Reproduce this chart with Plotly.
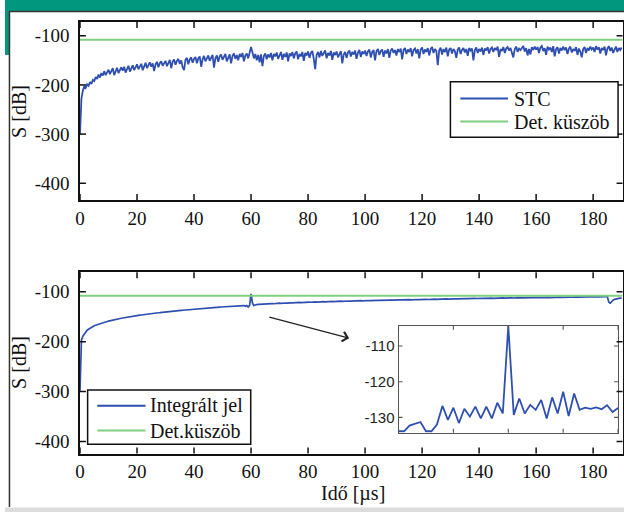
import plotly.graph_objects as go

# ---- sampled signals (dB), uniform time grid starting at T0 with step DT (µs)
T0 = 0.0
DT = 0.5
X_MAX = 190.3
THRESHOLD_DB = -108.0

STC_DB = [
    -300, -228, -212, -203, -206, -199, -202, -194, -198, -190,
    -192, -184, -188, -179, -185, -176, -181, -172, -180, -174,
    -169, -178, -171, -166, -180, -170, -165, -176, -168, -164,
    -171, -163, -175, -166, -161, -173, -164, -160, -170, -162,
    -158, -168, -161, -157, -170, -160, -155, -166, -159, -154,
    -163, -156, -172, -158, -153, -164, -156, -152, -161, -155,
    -151, -162, -154, -149, -166, -153, -148, -159, -151, -147,
    -157, -150, -164, -170, -149, -145, -158, -148, -144, -155,
    -147, -143, -156, -146, -142, -163, -148, -141, -152, -144,
    -140, -151, -143, -139, -165, -146, -140, -153, -142, -138,
    -149, -141, -137, -152, -143, -138, -156, -141, -136, -147,
    -139, -150, -137, -143, -135, -152, -140, -136, -146, -132,
    -123, -134, -146, -137, -150, -139, -154, -138, -162, -141,
    -136, -148, -138, -144, -135, -150, -137, -142, -134, -147,
    -138, -133, -149, -137, -143, -134, -152, -136, -141, -133,
    -146, -136, -132, -148, -137, -142, -133, -151, -135, -140,
    -132, -145, -135, -131, -147, -168, -139, -133, -144, -131,
    -141, -134, -130, -146, -135, -140, -131, -149, -134, -139,
    -132, -144, -136, -131, -156, -138, -133, -145, -134, -130,
    -142, -133, -138, -130, -147, -134, -129, -143, -132, -137,
    -130, -141, -132, -128, -144, -133, -129, -150, -131, -127,
    -139, -131, -128, -143, -130, -136, -127, -145, -130, -126,
    -135, -129, -140, -127, -133, -126, -148, -129, -125, -137,
    -128, -133, -125, -142, -129, -126, -136, -127, -146, -128,
    -124, -137, -128, -133, -125, -140, -127, -123, -135, -127,
    -131, -160, -130, -124, -138, -127, -133, -124, -142, -128,
    -125, -136, -127, -131, -145, -128, -124, -137, -129, -125,
    -134, -127, -141, -125, -130, -126, -150, -129, -124, -135,
    -127, -132, -124, -139, -126, -130, -123, -136, -127, -124,
    -133, -125, -129, -122, -143, -127, -131, -123, -135, -126,
    -123, -130, -125, -137, -144, -127, -122, -133, -126, -129,
    -124, -121, -132, -125, -140, -127, -138, -123, -129, -122,
    -128, -123, -135, -124, -121, -131, -125, -139, -122, -128,
    -124, -133, -121, -142, -127, -123, -136, -125, -130, -122,
    -129, -124, -137, -126, -122, -134, -127, -131, -123, -139,
    -126, -132, -144, -127, -123, -135, -125, -130, -122, -128,
    -124, -133, -121, -128, -123, -136, -125, -129, -122, -140,
    -126, -121, -131, -124, -135, -127, -122, -133, -125, -129,
    -124,
]

INTEGRATED_DB = [
    -300, -197, -189, -184, -180, -177, -175, -173, -171, -169.5,
    -168.2, -167.0, -165.9, -164.8, -163.7, -162.8, -161.9, -161.0, -160.3, -159.5,
    -158.8, -158.0, -157.4, -156.6, -156.0, -155.3, -154.8, -154.1, -153.6, -153.0,
    -152.5, -151.9, -151.5, -150.9, -150.4, -150.0, -149.4, -149.0, -148.5, -148.1,
    -147.6, -147.3, -146.8, -146.5, -146.0, -145.7, -145.2, -144.9, -144.5, -144.1,
    -143.8, -143.4, -143.1, -142.7, -142.4, -142.0, -141.8, -141.4, -141.1, -140.8,
    -140.5, -140.1, -139.9, -139.5, -139.3, -138.9, -138.7, -138.3, -138.1, -137.8,
    -137.6, -137.2, -137.0, -136.7, -136.5, -136.1, -135.9, -135.6, -135.4, -135.1,
    -134.9, -134.6, -134.4, -134.1, -133.9, -133.6, -133.4, -133.1, -132.9, -132.7,
    -132.5, -132.2, -132.0, -131.8, -131.6, -131.3, -131.1, -130.9, -130.7, -130.5,
    -130.3, -130.1, -129.9, -129.7, -129.5, -129.3, -129.1, -129.0, -128.8, -128.6,
    -128.5, -128.3, -128.2, -128.0, -127.9, -127.7, -129.0, -127.6, -130.5, -127.3,
    -104.4, -122.8, -127.4, -126.0, -125.6, -125.3, -125.0, -124.8, -124.6, -124.4,
    -124.1, -124.4, -123.9, -124.2, -123.8, -123.6, -124.0, -123.5, -123.7, -123.3,
    -122.9, -123.2, -122.7, -122.9, -122.5, -122.8, -122.3, -122.6, -122.2, -122.4,
    -121.9, -122.1, -121.6, -121.8, -121.4, -121.7, -121.3, -121.5, -121.1, -121.3,
    -121.0, -120.7, -121.0, -120.5, -120.8, -120.4, -120.6, -120.2, -120.5, -120.1,
    -120.2, -119.9, -120.1, -119.7, -120.0, -119.6, -119.8, -119.4, -119.7, -119.3,
    -119.4, -119.1, -119.3, -118.9, -119.2, -118.8, -119.0, -118.7, -118.9, -118.5,
    -118.7, -118.4, -118.6, -118.2, -118.5, -118.1, -118.3, -117.9, -118.2, -117.8,
    -118.0, -117.7, -117.9, -117.5, -117.8, -117.4, -117.6, -117.3, -117.5, -117.2,
    -117.4, -117.1, -117.3, -116.9, -117.2, -116.8, -117.0, -116.7, -116.9, -116.6,
    -116.8, -116.5, -116.7, -116.3, -116.6, -116.2, -116.4, -116.1, -116.3, -116.0,
    -116.3, -115.9, -116.2, -115.8, -116.0, -115.7, -115.9, -115.5, -115.8, -115.4,
    -115.7, -115.4, -115.6, -115.2, -115.5, -115.1, -115.3, -115.0, -115.2, -114.8,
    -115.1, -114.8, -115.0, -114.6, -114.9, -114.5, -114.7, -114.4, -114.6, -114.2,
    -114.6, -114.2, -114.5, -114.1, -114.3, -114.0, -114.2, -113.8, -114.1, -113.7,
    -114.0, -113.7, -113.9, -113.5, -113.8, -113.4, -113.6, -113.3, -113.5, -113.2,
    -113.5, -113.2, -113.4, -113.0, -113.3, -112.9, -113.1, -112.8, -113.0, -112.7,
    -113.1, -112.8, -113.0, -112.6, -112.9, -112.5, -112.7, -112.4, -112.6, -112.3,
    -112.7, -112.4, -112.6, -112.2, -112.5, -112.1, -112.3, -112.0, -112.2, -111.9,
    -112.4, -112.1, -112.3, -111.9, -112.2, -111.8, -112.0, -111.7, -111.9, -111.6,
    -112.0, -111.7, -111.9, -111.5, -111.8, -111.4, -111.6, -111.3, -111.5, -111.2,
    -111.6, -111.3, -111.5, -111.1, -111.4, -111.0, -111.2, -110.9, -111.1, -110.8,
    -111.2, -110.9, -111.1, -110.7, -111.0, -110.6, -110.8, -110.5, -110.7, -110.4,
    -110.9, -110.6, -110.8, -110.4, -110.7, -110.3, -110.5, -110.2, -110.4, -110.1,
    -110.5, -110.2, -110.4, -110.0, -110.3, -109.9, -110.1, -109.8, -110.0, -109.7,
    -110.0, -121.0, -123.0, -119.5, -116.8, -115.2, -114.1, -113.5, -113.1, -112.8,
    -112.6,
]

# Detail around the 60 µs echo: fine grid 59..61 µs
ZOOM_T0 = 59.0
ZOOM_DT = 0.05
ZOOM_DB = [
    -133.9, -133.9, -132.3, -131.8, -131.3, -133.9, -133.9, -132.0, -126.8, -130.7,
    -127.3, -131.6, -127.6, -129.8, -127.0, -130.3, -127.0, -130.3, -125.9, -128.9,
    -104.4, -129.3, -124.7, -128.9, -126.5, -127.9, -125.1, -130.3, -124.4, -128.9,
    -122.8, -129.6, -123.3, -127.9, -127.3, -127.6, -127.2, -127.7, -126.6, -128.5,
    -127.4,
]

X_TICKS = [0, 20, 40, 60, 80, 100, 120, 140, 160, 180]
Y_TICKS = [-400, -300, -200, -100]
ZOOM_Y_TICKS = [-130, -120, -110]
ZOOM_X_TICKS = [59.0, 59.5, 60.0, 60.5, 61.0]

TOP_LEGEND = [("STC", "#2f4fb0"), ("Det. küszöb", "#80cf80")]
BOTTOM_LEGEND = [("Integrált jel", "#2f4fb0"), ("Det.küszöb", "#80cf80")]

BLUE = "#2f4fb0"
GREEN = "#80cf80"
TEAL = "#00977f"
INK = "#111111"
INSET_INK = "#555555"
SERIF = "Liberation Serif, Times New Roman, serif"
SANS = "Liberation Sans, Arial, sans-serif"

W, H = 624, 512


def px_x(p):
    return p / W


def px_y(p):
    return 1 - p / H


def hyphen_labels(vals, pad=""):
    # plain ASCII hyphen for negatives, optional trailing gap before the axis
    return ["%d%s" % (v, pad) for v in vals]


# panel boxes in px: left, top, right, bottom
TOP_BOX = (75.6, 22.0, 622.5, 200.0)
BOT_BOX = (75.6, 272.3, 622.5, 453.5)
INSET_BOX = (396.7, 325.7, 618.0, 432.7)


def x_domain(box):
    return [px_x(box[0]), px_x(box[2])]


def y_domain(box):
    return [px_y(box[3]), px_y(box[1])]


fig = go.Figure()

# upper panel
fig.add_trace(go.Scatter(x0=T0, dx=DT, y=STC_DB, mode="lines", name="STC",
                         line=dict(color=BLUE, width=1.8),
                         xaxis="x", yaxis="y", showlegend=False))
fig.add_trace(go.Scatter(x=[T0, X_MAX], y=[THRESHOLD_DB, THRESHOLD_DB], mode="lines",
                         name="Det. küszöb", line=dict(color=GREEN, width=2),
                         xaxis="x", yaxis="y", showlegend=False))

# lower panel
fig.add_trace(go.Scatter(x0=T0, dx=DT, y=INTEGRATED_DB, mode="lines", name="Integrált jel",
                         line=dict(color=BLUE, width=1.7),
                         xaxis="x2", yaxis="y2", showlegend=False))
fig.add_trace(go.Scatter(x=[T0, X_MAX], y=[THRESHOLD_DB, THRESHOLD_DB], mode="lines",
                         name="Det.küszöb", line=dict(color=GREEN, width=2),
                         xaxis="x2", yaxis="y2", showlegend=False))

# inset
fig.add_trace(go.Scatter(x0=ZOOM_T0, dx=ZOOM_DT, y=ZOOM_DB, mode="lines",
                         line=dict(color=BLUE, width=1.8), showlegend=False,
                         xaxis="x3", yaxis="y3"))

main_axis = dict(showline=True, linecolor=INK, linewidth=1.8, mirror=True,
                 ticks="", showgrid=False, zeroline=False,
                 tickfont=dict(family=SERIF, size=19, color=INK))

inset_axis = dict(showline=True, linecolor=INSET_INK, linewidth=1, mirror=True,
                  ticks="", showgrid=False, zeroline=False)

fig.update_layout(
    width=W, height=H,
    margin=dict(l=0, r=0, t=0, b=0),
    paper_bgcolor="white", plot_bgcolor="rgba(0,0,0,0)",
    showlegend=False,
    xaxis=dict(main_axis, domain=x_domain(TOP_BOX), anchor="y", range=[0, X_MAX],
               tickvals=X_TICKS),
    yaxis=dict(main_axis, domain=y_domain(TOP_BOX), anchor="x", range=[-434, -72],
               tickvals=Y_TICKS, ticktext=hyphen_labels(Y_TICKS, "\u00a0")),
    xaxis2=dict(main_axis, domain=x_domain(BOT_BOX), anchor="y2", range=[0, X_MAX],
                tickvals=X_TICKS),
    yaxis2=dict(main_axis, domain=y_domain(BOT_BOX), anchor="x2", range=[-424, -61],
                tickvals=Y_TICKS, ticktext=hyphen_labels(Y_TICKS, "\u00a0")),
    xaxis3=dict(inset_axis, domain=x_domain(INSET_BOX), anchor="y3", range=[59, 61],
                tickvals=ZOOM_X_TICKS, showticklabels=False),
    yaxis3=dict(inset_axis, domain=y_domain(INSET_BOX), anchor="x3",
                range=[-134.3, -104.3],
                tickvals=ZOOM_Y_TICKS, ticktext=hyphen_labels(ZOOM_Y_TICKS),
                tickfont=dict(family=SANS, size=15, color="#222222")),
)

shapes = []
annotations = []


# inward tick marks on all four sides of a panel, placed at the axis tick values
def inward_ticks(xa, ya, box, xticks, yticks, length, width, colour):
    wpx = box[2] - box[0]
    hpx = box[3] - box[1]
    fy = length / hpx
    fx = length / wpx
    style = dict(color=colour, width=width)
    for t in xticks:
        for y0, y1 in ((0, fy), (1, 1 - fy)):
            shapes.append(dict(type="line", xref=xa, yref=ya + " domain",
                               x0=t, x1=t, y0=y0, y1=y1, line=style))
    for v in yticks:
        for x0, x1 in ((0, fx), (1, 1 - fx)):
            shapes.append(dict(type="line", xref=xa + " domain", yref=ya,
                               x0=x0, x1=x1, y0=v, y1=v, line=style))


inward_ticks("x", "y", TOP_BOX, X_TICKS, Y_TICKS, 6, 1.5, INK)
inward_ticks("x2", "y2", BOT_BOX, X_TICKS, Y_TICKS, 6, 1.5, INK)
inward_ticks("x3", "y3", INSET_BOX, ZOOM_X_TICKS, ZOOM_Y_TICKS, 4, 1.1, INSET_INK)


# legend boxes: (left, top, right, bottom) in px, then rows of (label, colour)
def legend_box(left, top, right, bottom, rows, row_y, line_x0, line_x1, text_x):
    shapes.append(dict(type="rect", xref="paper", yref="paper",
                       x0=px_x(left), x1=px_x(right), y0=px_y(bottom), y1=px_y(top),
                       fillcolor="white", line=dict(color=INK, width=1.5)))
    for (label, colour), yy in zip(rows, row_y):
        shapes.append(dict(type="line", xref="paper", yref="paper",
                           x0=px_x(line_x0), x1=px_x(line_x1), y0=px_y(yy), y1=px_y(yy),
                           line=dict(color=colour, width=2)))
        annotations.append(dict(text=label, xref="paper", yref="paper",
                                x=px_x(text_x), y=px_y(yy), xanchor="left", yanchor="middle",
                                showarrow=False,
                                font=dict(family=SERIF, size=20, color=INK)))


legend_box(449, 81.7, 618, 137.3, TOP_LEGEND, [98.5, 121.5], 459, 507, 511)
legend_box(83.3, 390, 247.7, 444.3, BOTTOM_LEGEND, [405.7, 430.5], 93, 141.7, 144)

# axis titles
title_font = dict(family=SERIF, size=20, color=INK)
annotations.append(dict(text="S [dB]", xref="paper", yref="paper", x=px_x(14), y=px_y(111),
                        xanchor="center", yanchor="middle",
                        textangle=-90, showarrow=False, font=title_font))
annotations.append(dict(text="S [dB]", xref="paper", yref="paper", x=px_x(14), y=px_y(362),
                        xanchor="center", yanchor="middle",
                        textangle=-90, showarrow=False, font=title_font))
annotations.append(dict(text="Idő [µs]", xref="paper", yref="paper", x=px_x(351), y=px_y(493),
                        xanchor="center", yanchor="middle",
                        showarrow=False, font=title_font))

# pointer from the 60 µs echo to the detail view
annotations.append(dict(x=94.4, y=-193, ax=65.9, ay=-150, xref="x2", yref="y2",
                        axref="x2", ayref="y2", text="", showarrow=True,
                        arrowhead=4, arrowsize=1.6, arrowwidth=1.2, arrowcolor="#222222"))

# page frame around the figure
shapes += [
    dict(type="rect", xref="paper", yref="paper", x0=0, x1=1, y0=px_y(11), y1=1,
         fillcolor=TEAL, line_width=0, layer="below"),
    dict(type="rect", xref="paper", yref="paper", x0=0, x1=px_x(4), y0=px_y(55), y1=1,
         fillcolor=TEAL, line_width=0, layer="below"),
    dict(type="line", xref="paper", yref="paper", x0=px_x(4), x1=1, y0=px_y(11.5), y1=px_y(11.5),
         line=dict(color="#333333", width=1.5)),
    dict(type="line", xref="paper", yref="paper", x0=px_x(4.5), x1=px_x(4.5),
         y0=px_y(507), y1=px_y(11.5), line=dict(color="#333333", width=1.5)),
    dict(type="rect", xref="paper", yref="paper", x0=0, x1=1, y0=0, y1=px_y(507.5),
         fillcolor="#dcdcdc", line_width=0, layer="below"),
]

fig.update_layout(shapes=shapes, annotations=annotations)

fig.write_html("out.html")
